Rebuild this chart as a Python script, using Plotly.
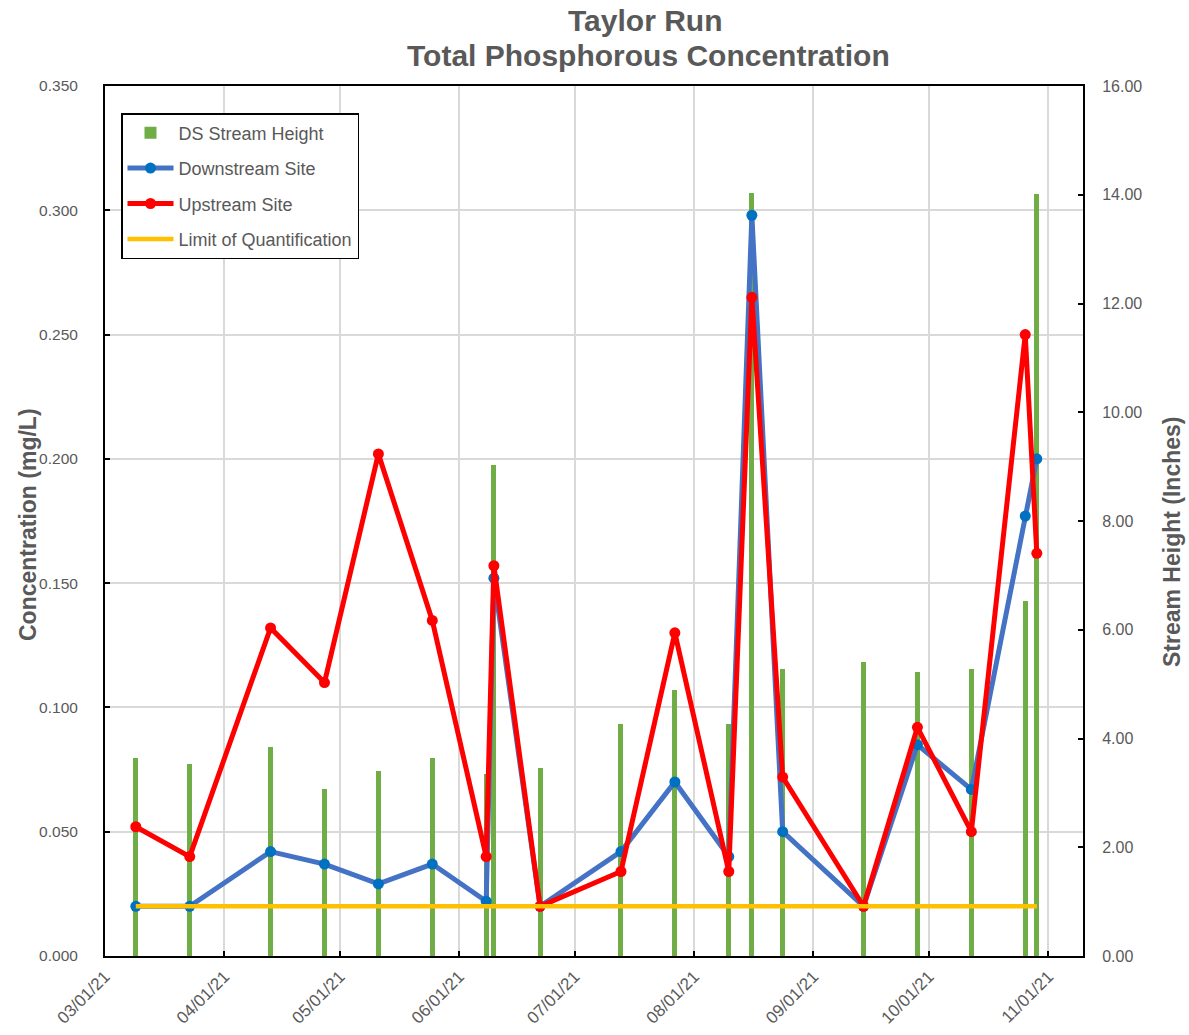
import plotly.graph_objects as go

# ---- data ----
dates = ["2021-03-09", "2021-03-23", "2021-04-13", "2021-04-27", "2021-05-11",
         "2021-05-25", "2021-06-08", "2021-06-10", "2021-06-22", "2021-07-13",
         "2021-07-27", "2021-08-10", "2021-08-16", "2021-08-24", "2021-09-14",
         "2021-09-28", "2021-10-12", "2021-10-26", "2021-10-29"]
stream_height = [3.65, 3.53, 3.85, 3.08, 3.40, 3.65, 3.35, 9.03, 3.46, 4.27,
                 4.90, 4.27, 14.03, 5.27, 5.41, 5.22, 5.27, 6.52, 14.02]
downstream = [0.020, 0.020, 0.042, 0.037, 0.029, 0.037, 0.022, 0.152, 0.020, 0.042,
              0.070, 0.040, 0.298, 0.050, 0.020, 0.085, 0.067, 0.177, 0.200]
upstream = [0.052, 0.040, 0.132, 0.110, 0.202, 0.135, 0.040, 0.157, 0.020, 0.034,
            0.130, 0.034, 0.265, 0.072, 0.020, 0.092, 0.050, 0.250, 0.162]
loq_dates = ["2021-03-09", "2021-10-29"]
loq = [0.020, 0.020]

title_line1 = "Taylor Run"
title_line2 = "Total Phosphorous Concentration"
left_title = "Concentration (mg/L)"
right_title = "Stream Height (Inches)"

GRAY = "#595959"
FONT = "Liberation Sans, Arial, sans-serif"

W, H = 1189, 1035
ML, MT = 105, 86
PW, PH = 978, 870

fig = go.Figure()

fig.add_trace(go.Bar(
    x=dates, y=stream_height, name="DS Stream Height",
    marker=dict(color="#70AD47", line=dict(width=0)),
    width=1.3 * 86400000, yaxis="y", legendgroup="g1",
))
fig.add_trace(go.Scatter(
    x=dates, y=downstream, name="Downstream Site", mode="lines+markers",
    line=dict(color="#4472C4", width=5),
    marker=dict(color="#0070C0", size=11),
    yaxis="y2", legendgroup="g2",
))
fig.add_trace(go.Scatter(
    x=dates, y=upstream, name="Upstream Site", mode="lines+markers",
    line=dict(color="#FF0000", width=5),
    marker=dict(color="#FF0000", size=11),
    yaxis="y2", legendgroup="g3",
))
fig.add_trace(go.Scatter(
    x=loq_dates, y=loq, name="Limit of Quantification", mode="lines",
    line=dict(color="#FFC000", width=4.5),
    yaxis="y2", legendgroup="g4",
))


def py(pix):
    return 1 + (MT - pix) / PH


def px(pix):
    return (pix - ML) / PW


fig.update_layout(
    width=W, height=H,
    margin=dict(l=ML, r=W - ML - PW, t=MT, b=H - MT - PH, autoexpand=False),
    paper_bgcolor="white", plot_bgcolor="white",
    font=dict(family=FONT, color=GRAY, size=16),
    showlegend=True,
    legend=dict(x=px(121), y=py(113), xanchor="left", yanchor="top",
                bgcolor="white", bordercolor="black", borderwidth=1.5,
                font=dict(size=18, color=GRAY, family=FONT),
                traceorder="grouped", tracegroupgap=9, itemwidth=46),
    bargap=0,
    xaxis=dict(
        type="date", range=["2021-03-01", "2021-11-10"], automargin=False,
        tick0="2021-03-01", dtick="M1", tickformat="%m/%d/%y", tickangle=-45,
        showgrid=True, gridcolor="#D9D9D9", gridwidth=1.5,
        showline=True, linecolor="black", linewidth=2, mirror=True,
        ticks="inside", ticklen=5, tickcolor="black", tickwidth=1.5,
        ticklabelstandoff=2,
        tickfont=dict(size=17, color=GRAY, family=FONT),
    ),
    yaxis=dict(
        side="right", range=[0, 16], dtick=2, tickformat=".2f", automargin=False,
        showgrid=False, zeroline=False,
        showline=True, linecolor="black", linewidth=2,
        ticks="inside", ticklen=5, tickcolor="black", tickwidth=1.5,
        ticklabelstandoff=14,
        tickfont=dict(size=16, color=GRAY, family=FONT),
    ),
    yaxis2=dict(
        side="left", overlaying="y", range=[0, 0.35], dtick=0.05, tickformat=".3f",
        automargin=False,
        showgrid=True, gridcolor="#D9D9D9", gridwidth=1.5, zeroline=False,
        showline=True, linecolor="black", linewidth=2,
        ticks="inside", ticklen=5, tickcolor="black", tickwidth=1.5,
        ticklabelstandoff=22,
        tickfont=dict(size=15.5, color=GRAY, family=FONT),
    ),
    annotations=[
        dict(text=title_line1, xref="paper", yref="paper",
             x=px(645), y=py(20), xanchor="center", yanchor="middle",
             showarrow=False, font=dict(size=30, color=GRAY, family=FONT, weight="bold")),
        dict(text=title_line2, xref="paper", yref="paper",
             x=px(648), y=py(56), xanchor="center", yanchor="middle",
             showarrow=False, font=dict(size=30, color=GRAY, family=FONT, weight="bold")),
        dict(text=left_title, textangle=-90, xref="paper", yref="paper",
             x=px(28), y=py(525), xanchor="center", yanchor="middle",
             showarrow=False, font=dict(size=23, color=GRAY, family=FONT, weight="bold")),
        dict(text=right_title, textangle=-90, xref="paper", yref="paper",
             x=px(1172), y=py(542), xanchor="center", yanchor="middle",
             showarrow=False, font=dict(size=23, color=GRAY, family=FONT, weight="bold")),
    ],
)

fig.write_html("out.html", config={"displayModeBar": False},
               post_script="document.body.style.margin='0';")
